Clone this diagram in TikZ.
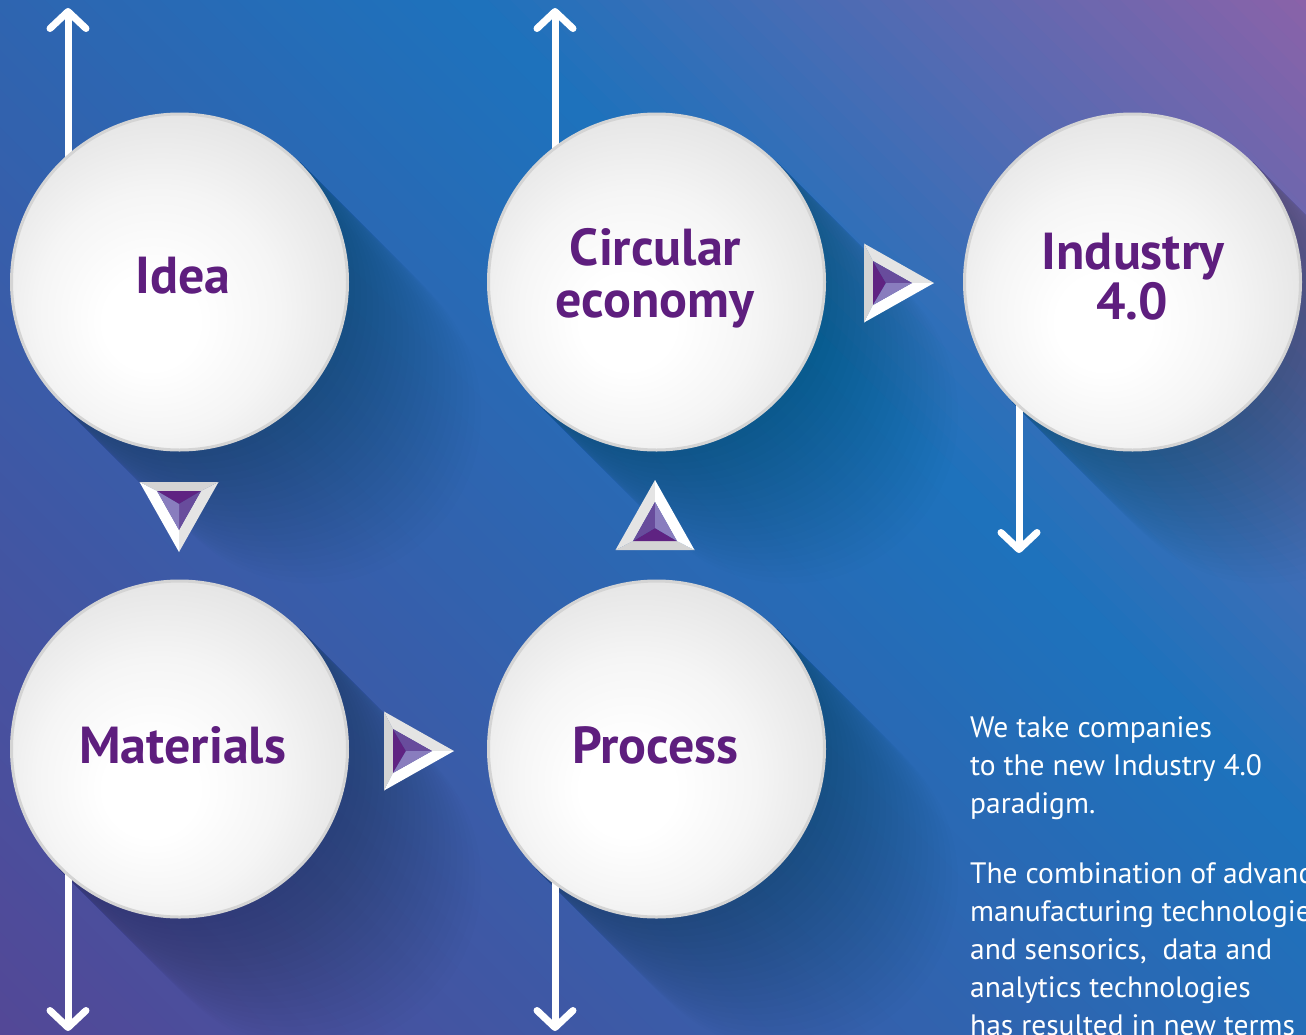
\documentclass[tikz,border=0pt]{standalone}
\usepackage{fontspec}
\setmainfont{PT Sans}
\usetikzlibrary{arrows.meta}
\definecolor{bgA}{RGB}{84,71,150}
\definecolor{bgB}{RGB}{30,114,188}
\definecolor{bgC}{RGB}{141,98,168}
\definecolor{txtP}{RGB}{94,30,126}
\definecolor{pyrDark}{RGB}{95,35,130}
\definecolor{pyrMid}{RGB}{104,76,156}
\definecolor{pyrLight}{RGB}{137,125,190}
\definecolor{frameGray}{RGB}{212,212,212}
\definecolor{frameLight}{RGB}{228,228,228}
\definecolor{discB}{RGB}{245,245,245}
\definecolor{discC}{RGB}{224,224,224}
\definecolor{discEdge}{RGB}{212,212,212}
\pgfdeclareradialshading{discshade}{\pgfpoint{-5bp}{-7bp}}{color(0bp)=(white); color(7bp)=(white); color(18bp)=(discB); color(32bp)=(discC); color(50bp)=(discC)}
\begin{document}
\begin{tikzpicture}[x=1pt,y=-1pt,
  disc/.style={circle, minimum size=336pt, inner sep=0pt, draw=discEdge, line width=3pt, shade, shading=discshade},
  lbl/.style={text=txtP, font=\bfseries\fontsize{52}{54}\selectfont, inner sep=0pt},
  body/.style={text=white, font=\fontsize{29.5}{38}\selectfont, inner sep=0pt, anchor=base west},
  arr/.style={draw=white, line width=7pt, -{Straight Barb[length=17pt,width=36pt,round]}},
  pyr/.pic={
    \fill[frameGray] (-24,-39.5) -- (-24,39.5) -- (-15,22) -- (-15,-22) -- cycle;
    \fill[frameLight] (-24,-39.5) -- (46,0) -- (24,0) -- (-15,-22) -- cycle;
    \fill[white] (-24,39.5) -- (46,0) -- (24,0) -- (-15,22) -- cycle;
    \fill[pyrDark] (-15,-22) -- (-15,22) -- (-2,0) -- cycle;
    \fill[pyrMid] (-15,-22) -- (24,0) -- (-2,0) -- cycle;
    \fill[pyrLight] (-15,22) -- (24,0) -- (-2,0) -- cycle;
  }]
\useasboundingbox (0,0) rectangle (1306,1034);
\begin{scope}
\clip (0,0) rectangle (1306,1034);
% background gradient
\begin{scope}[shift={(653,517)}, rotate=45]
  \foreach \i in {0,...,79}{
    \pgfmathsetmacro\ua{-850+\i*13.55}
    \pgfmathsetmacro\ub{\ua+14.5}
    \pgfmathsetmacro\p{100-\i*100/79}
    \fill[bgA!\p!bgB] (\ua,-900) rectangle (\ub,900);
  }
  \foreach \i in {0,...,39}{
    \pgfmathsetmacro\ua{234+\i*15.4}
    \pgfmathsetmacro\ub{\ua+16.4}
    \pgfmathsetmacro\p{100-\i*100/39}
    \fill[bgB!\p!bgC] (\ua,-900) rectangle (\ub,900);
  }
\end{scope}
% soft long shadows
\foreach \cx/\cy in {179.5/282, 656.5/282, 1132.5/282, 179.5/749, 656.5/749}{
  \foreach \L in {6,12,...,132}{
    \begin{scope}[transparency group, opacity=0.0065]
      \fill[black] (\cx+120.2,\cy-120.2) -- ++(\L,\L) -- ++(-240.4,240.4) -- ++(-\L,-\L) -- cycle;
      \fill[black] (\cx+\L,\cy+\L) circle[radius=169.5];
    \end{scope}
  }
}
% arrows
\coordinate (a1s) at (68,200);   \coordinate (a1e) at (68,8);
\coordinate (a2s) at (555,200);  \coordinate (a2e) at (555,8);
\coordinate (a3s) at (1019,360); \coordinate (a3e) at (1019,553);
\coordinate (a4s) at (68,820);   \coordinate (a4e) at (68,1031);
\coordinate (a5s) at (555,820);  \coordinate (a5e) at (555,1031);
\draw[arr] (a1s) -- (a1e);
\draw[arr] (a2s) -- (a2e);
\draw[arr] (a3s) -- (a3e);
\draw[arr] (a4s) -- (a4e);
\draw[arr] (a5s) -- (a5e);
% circles
\node[disc] (idea) at (179.5,282) {};
\node[disc] (circ) at (656.5,282) {};
\node[disc] (indu) at (1132.5,282) {};
\node[disc] (mate) at (179.5,749) {};
\node[disc] (proc) at (656.5,749) {};
% labels
\node[lbl, anchor=base] (tIdea) at (183,293) {Idea};
\node[lbl, anchor=base] (tCirc1) at (655.5,265) {Circular};
\node[lbl, anchor=base] (tCirc2) at (655,317) {economy};
\node[lbl, anchor=base] (tIndu1) at (1133,269) {Industry};
\node[lbl, anchor=base] (tIndu2) at (1132,319) {4.0};
\node[lbl, anchor=base] (tMate) at (182.5,763) {Materials};
\node[lbl, anchor=base] (tProc) at (655.5,763) {Process};
% pyramids
\pic at (888,283) {pyr};
\pic at (408,751) {pyr};
\pic[rotate=-90] at (179,506) {pyr};
\pic[rotate=90] at (655,526) {pyr};
% body text
\node[body] (b1) at (970,737) {We take companies};
\node[body] (b2) at (970,775) {to the new Industry 4.0};
\node[body] (b3) at (970,813) {paradigm.};
\node[body] (b4) at (970,883) {The combination of advanced};
\node[body] (b5) at (970,921) {manufacturing technologies};
\node[body] (b6) at (970,959) {and sensorics,\ \ data and};
\node[body] (b7) at (970,997) {analytics technologies};
\node[body] (b8) at (970,1035) {has resulted in new terms};
\end{scope}
\end{tikzpicture}
\end{document}
